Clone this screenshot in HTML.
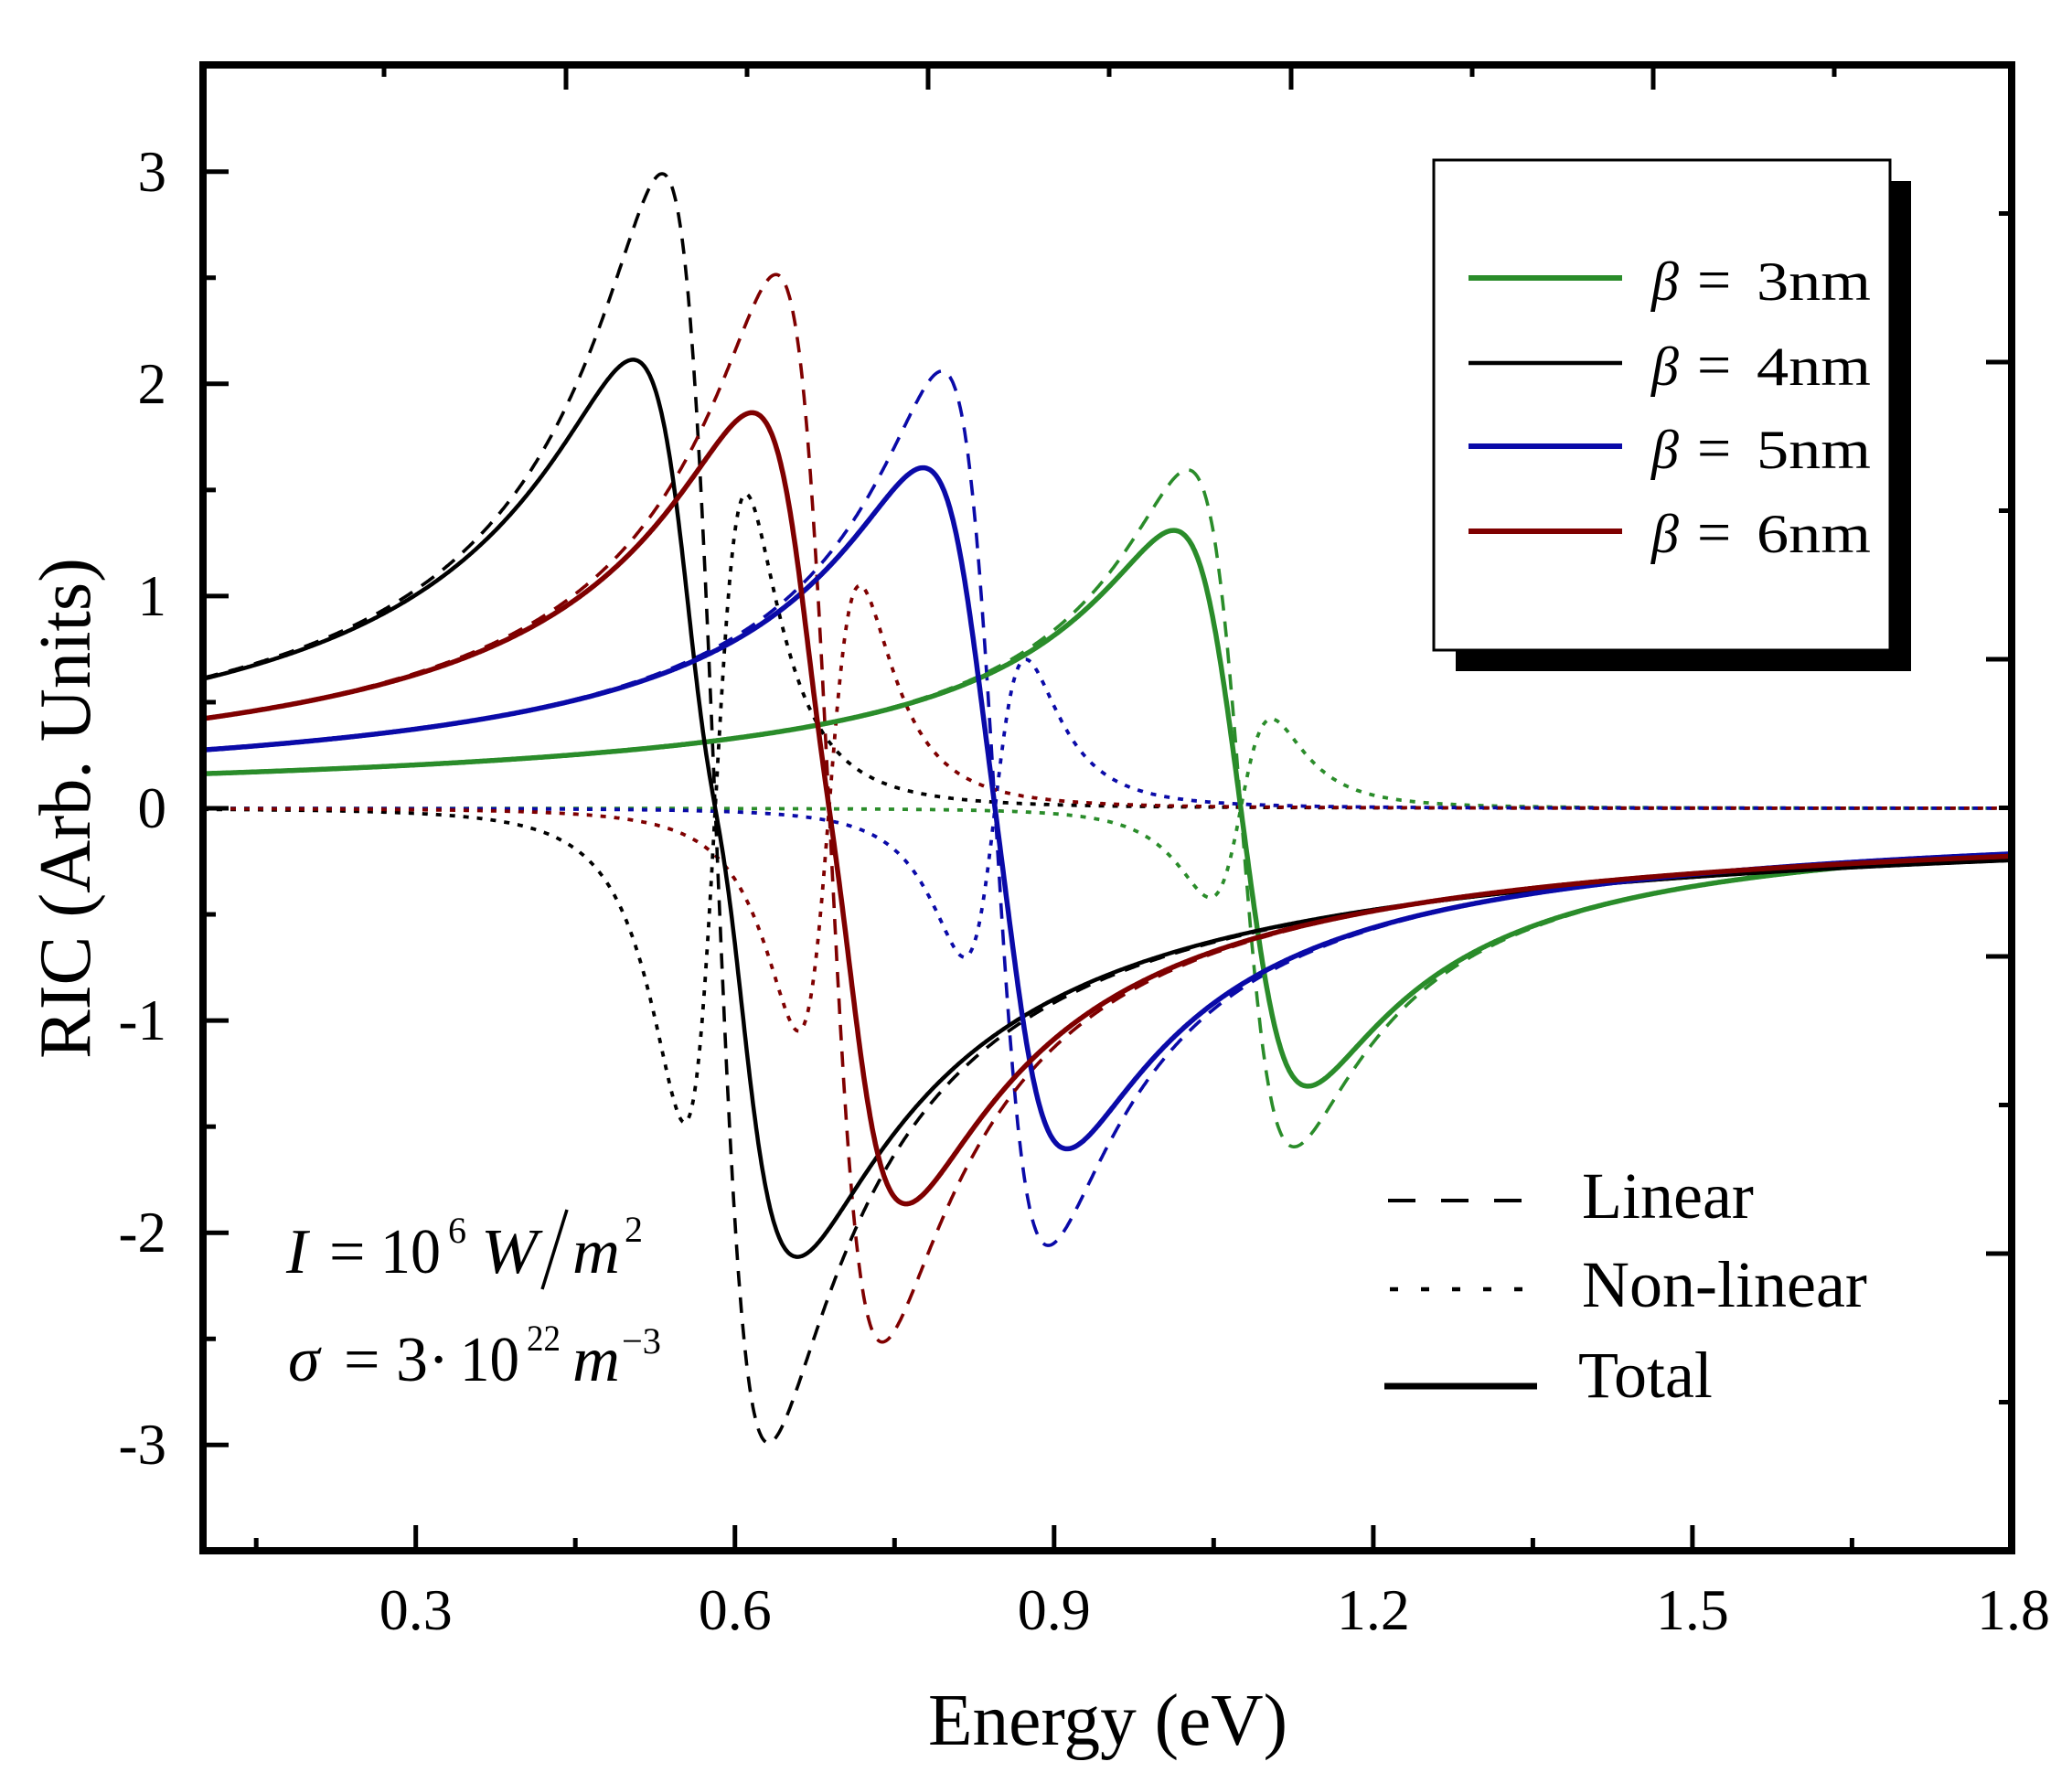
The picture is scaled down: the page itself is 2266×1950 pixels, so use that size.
<!DOCTYPE html>
<html>
<head>
<meta charset="utf-8">
<style>
html,body{margin:0;padding:0;background:#fff;}
svg{display:block;}
text{font-family:"Liberation Serif","DejaVu Serif",serif;fill:#000;}
</style>
</head>
<body>
<svg id="chart" xmlns="http://www.w3.org/2000/svg" width="2266" height="1950" viewBox="0 0 2266 1950">
<rect x="0" y="0" width="2266" height="1950" fill="#fff"/>
<defs>
<clipPath id="plotclip"><rect x="222" y="71" width="1978" height="1625"/></clipPath>
</defs>

<g id="curves" clip-path="url(#plotclip)"></g>

<rect x="222" y="71" width="1978" height="1625" fill="none" stroke="#000" stroke-width="8"/>

<g stroke="#000" stroke-width="5">
  <line x1="222" y1="187.7" x2="250" y2="187.7"/>
  <line x1="222" y1="419.8" x2="250" y2="419.8"/>
  <line x1="222" y1="651.9" x2="250" y2="651.9"/>
  <line x1="222" y1="884" x2="250" y2="884"/>
  <line x1="222" y1="1116.1" x2="250" y2="1116.1"/>
  <line x1="222" y1="1348.2" x2="250" y2="1348.2"/>
  <line x1="222" y1="1580.3" x2="250" y2="1580.3"/>
  <line x1="222" y1="303.75" x2="236" y2="303.75"/>
  <line x1="222" y1="535.85" x2="236" y2="535.85"/>
  <line x1="222" y1="767.95" x2="236" y2="767.95"/>
  <line x1="222" y1="1000.05" x2="236" y2="1000.05"/>
  <line x1="222" y1="1232.15" x2="236" y2="1232.15"/>
  <line x1="222" y1="1464.25" x2="236" y2="1464.25"/>
  <line x1="454.7" y1="1696" x2="454.7" y2="1668"/>
  <line x1="803.75" y1="1696" x2="803.75" y2="1668"/>
  <line x1="1152.8" y1="1696" x2="1152.8" y2="1668"/>
  <line x1="1501.9" y1="1696" x2="1501.9" y2="1668"/>
  <line x1="1850.9" y1="1696" x2="1850.9" y2="1668"/>
  <line x1="280.2" y1="1696" x2="280.2" y2="1682"/>
  <line x1="629.2" y1="1696" x2="629.2" y2="1682"/>
  <line x1="978.3" y1="1696" x2="978.3" y2="1682"/>
  <line x1="1327.3" y1="1696" x2="1327.3" y2="1682"/>
  <line x1="1676.4" y1="1696" x2="1676.4" y2="1682"/>
  <line x1="2025.4" y1="1696" x2="2025.4" y2="1682"/>
  <line x1="619" y1="71" x2="619" y2="98"/>
  <line x1="1015" y1="71" x2="1015" y2="98"/>
  <line x1="1412" y1="71" x2="1412" y2="98"/>
  <line x1="1808" y1="71" x2="1808" y2="98"/>
  <line x1="420" y1="71" x2="420" y2="84"/>
  <line x1="817" y1="71" x2="817" y2="84"/>
  <line x1="1213" y1="71" x2="1213" y2="84"/>
  <line x1="1610" y1="71" x2="1610" y2="84"/>
  <line x1="2006" y1="71" x2="2006" y2="84"/>
  <line x1="2200" y1="396" x2="2172" y2="396"/>
  <line x1="2200" y1="721" x2="2172" y2="721"/>
  <line x1="2200" y1="1046" x2="2172" y2="1046"/>
  <line x1="2200" y1="1371" x2="2172" y2="1371"/>
  <line x1="2200" y1="233.5" x2="2186" y2="233.5"/>
  <line x1="2200" y1="558.5" x2="2186" y2="558.5"/>
  <line x1="2200" y1="883.5" x2="2186" y2="883.5"/>
  <line x1="2200" y1="1208.5" x2="2186" y2="1208.5"/>
  <line x1="2200" y1="1533.5" x2="2186" y2="1533.5"/>
</g>

<g font-size="63" text-anchor="end">
  <text x="182" y="209">3</text>
  <text x="182" y="441">2</text>
  <text x="182" y="673">1</text>
  <text x="182" y="905">0</text>
  <text x="182" y="1137">-1</text>
  <text x="182" y="1369">-2</text>
  <text x="182" y="1601">-3</text>
</g>

<g font-size="64" text-anchor="middle">
  <text x="454.7" y="1782">0.3</text>
  <text x="803.75" y="1782">0.6</text>
  <text x="1152.8" y="1782">0.9</text>
  <text x="1501.9" y="1782">1.2</text>
  <text x="1850.9" y="1782">1.5</text>
  <text x="2202" y="1782">1.8</text>
</g>

<text x="1015" y="1908" font-size="80" textLength="393" lengthAdjust="spacingAndGlyphs">Energy (eV)</text>
<text transform="translate(98,1158) rotate(-90)" font-size="80" textLength="548" lengthAdjust="spacingAndGlyphs">RIC (Arb. Units)</text>

<rect x="1592" y="198" width="498" height="536" fill="#000"/>
<rect x="1568" y="175" width="499" height="536" fill="#fff" stroke="#000" stroke-width="3"/>
<line x1="1606" y1="304" x2="1774" y2="304" stroke="#2a8c2a" stroke-width="6"/>
<line x1="1606" y1="397" x2="1774" y2="397" stroke="#000" stroke-width="4.5"/>
<line x1="1606" y1="488" x2="1774" y2="488" stroke="#0a0aa8" stroke-width="6"/>
<line x1="1606" y1="581" x2="1774" y2="581" stroke="#7f0000" stroke-width="6"/>
<g font-size="60">
  <text x="1806" y="328" font-style="italic">β</text>
  <text x="1856" y="328" font-size="66">=</text>
  <text x="1921" y="328" textLength="125" lengthAdjust="spacingAndGlyphs">3nm</text>
  <text x="1806" y="421" font-style="italic">β</text>
  <text x="1856" y="421" font-size="66">=</text>
  <text x="1921" y="421" textLength="125" lengthAdjust="spacingAndGlyphs">4nm</text>
  <text x="1806" y="512" font-style="italic">β</text>
  <text x="1856" y="512" font-size="66">=</text>
  <text x="1921" y="512" textLength="125" lengthAdjust="spacingAndGlyphs">5nm</text>
  <text x="1806" y="604" font-style="italic">β</text>
  <text x="1856" y="604" font-size="66">=</text>
  <text x="1921" y="604" textLength="125" lengthAdjust="spacingAndGlyphs">6nm</text>
</g>

<line x1="1518" y1="1313" x2="1667" y2="1313" stroke="#000" stroke-width="4" stroke-dasharray="30 28"/>
<line x1="1520" y1="1410" x2="1667" y2="1410" stroke="#000" stroke-width="4.5" stroke-dasharray="9 25"/>
<line x1="1514" y1="1516" x2="1681" y2="1516" stroke="#000" stroke-width="7"/>
<g font-size="72">
  <text x="1730" y="1332">Linear</text>
  <text x="1730" y="1429">Non-linear</text>
  <text x="1726" y="1528">Total</text>
</g>

<g font-size="70">
  <text x="313" y="1392" font-style="italic">I</text>
  <text x="360" y="1392">=</text>
  <text x="416" y="1392" textLength="66" lengthAdjust="spacingAndGlyphs">10</text>
  <text x="490" y="1359" font-size="40">6</text>
  <text x="526" y="1392" font-style="italic" textLength="62" lengthAdjust="spacingAndGlyphs">W</text>
  <text x="626" y="1392" font-style="italic" textLength="52" lengthAdjust="spacingAndGlyphs">m</text>
  <text x="683" y="1358" font-size="40">2</text>
  <text x="315" y="1510" font-style="italic">σ</text>
  <text x="376" y="1510">=</text>
  <text x="433" y="1510">3</text>
  <text x="468" y="1510">·</text>
  <text x="503" y="1510" textLength="65" lengthAdjust="spacingAndGlyphs">10</text>
  <text x="576" y="1477" font-size="40" textLength="37" lengthAdjust="spacingAndGlyphs">22</text>
  <text x="626" y="1510" font-style="italic" textLength="52" lengthAdjust="spacingAndGlyphs">m</text>
  <text x="680" y="1480" font-size="40" textLength="43" lengthAdjust="spacingAndGlyphs">−3</text>
</g>
<line x1="620" y1="1323" x2="593" y2="1410" stroke="#000" stroke-width="3.5"/>

<script>
(function(){
  var X=function(E){return 222+(E-0.1)*1163.5;};
  var Y=function(v){return 884-v*232.1;};
  var G=0.05, G2=G*G;
  var series=[
    {c:'#2a8c2a', E0:1.0755, A:0.1595, B:1.62e-4, w:5.5},
    {c:'#000000', E0:0.5815, A:0.299, B:5.7e-4, w:4.5},
    {c:'#0a0aa8', E0:0.8445, A:0.206, B:2.7e-4, w:5.5},
    {c:'#7f0000', E0:0.6885, A:0.2515, B:4.04e-4, w:5.5}
  ];
  function L(s,E){var u=s.E0-E;return s.A*u/(u*u+G2);}
  function N(s,E){var u=s.E0-E;var d=u*u+G2;return -s.B*u/(d*d);}
  function path(f){
    var d='';
    for(var i=0;i<=1700;i++){
      var E=0.1+i*0.001;
      var y=Y(f(E)); if(y<40)y=40; if(y>1730)y=1730;
      d+=(i?'L':'M')+X(E).toFixed(1)+' '+y.toFixed(1);
    }
    return d;
  }
  var g=document.getElementById('curves');
  var ns='http://www.w3.org/2000/svg';
  function add(d,c,w,dash){
    var p=document.createElementNS(ns,'path');
    p.setAttribute('d',d);
    p.setAttribute('fill','none');
    p.setAttribute('stroke',c);
    p.setAttribute('stroke-width',w);
    p.setAttribute('stroke-linejoin','round');
    if(dash)p.setAttribute('stroke-dasharray',dash);
    g.appendChild(p);
  }
  series.forEach(function(s){add(path(function(E){return N(s,E);}),s.c,3.8,'6 9');});
  series.forEach(function(s){add(path(function(E){return L(s,E);}),s.c,3.6,'17 12');});
  series.forEach(function(s){add(path(function(E){return L(s,E)+N(s,E);}),s.c,s.w,null);});
})();
</script>
</svg>
</body>
</html>
